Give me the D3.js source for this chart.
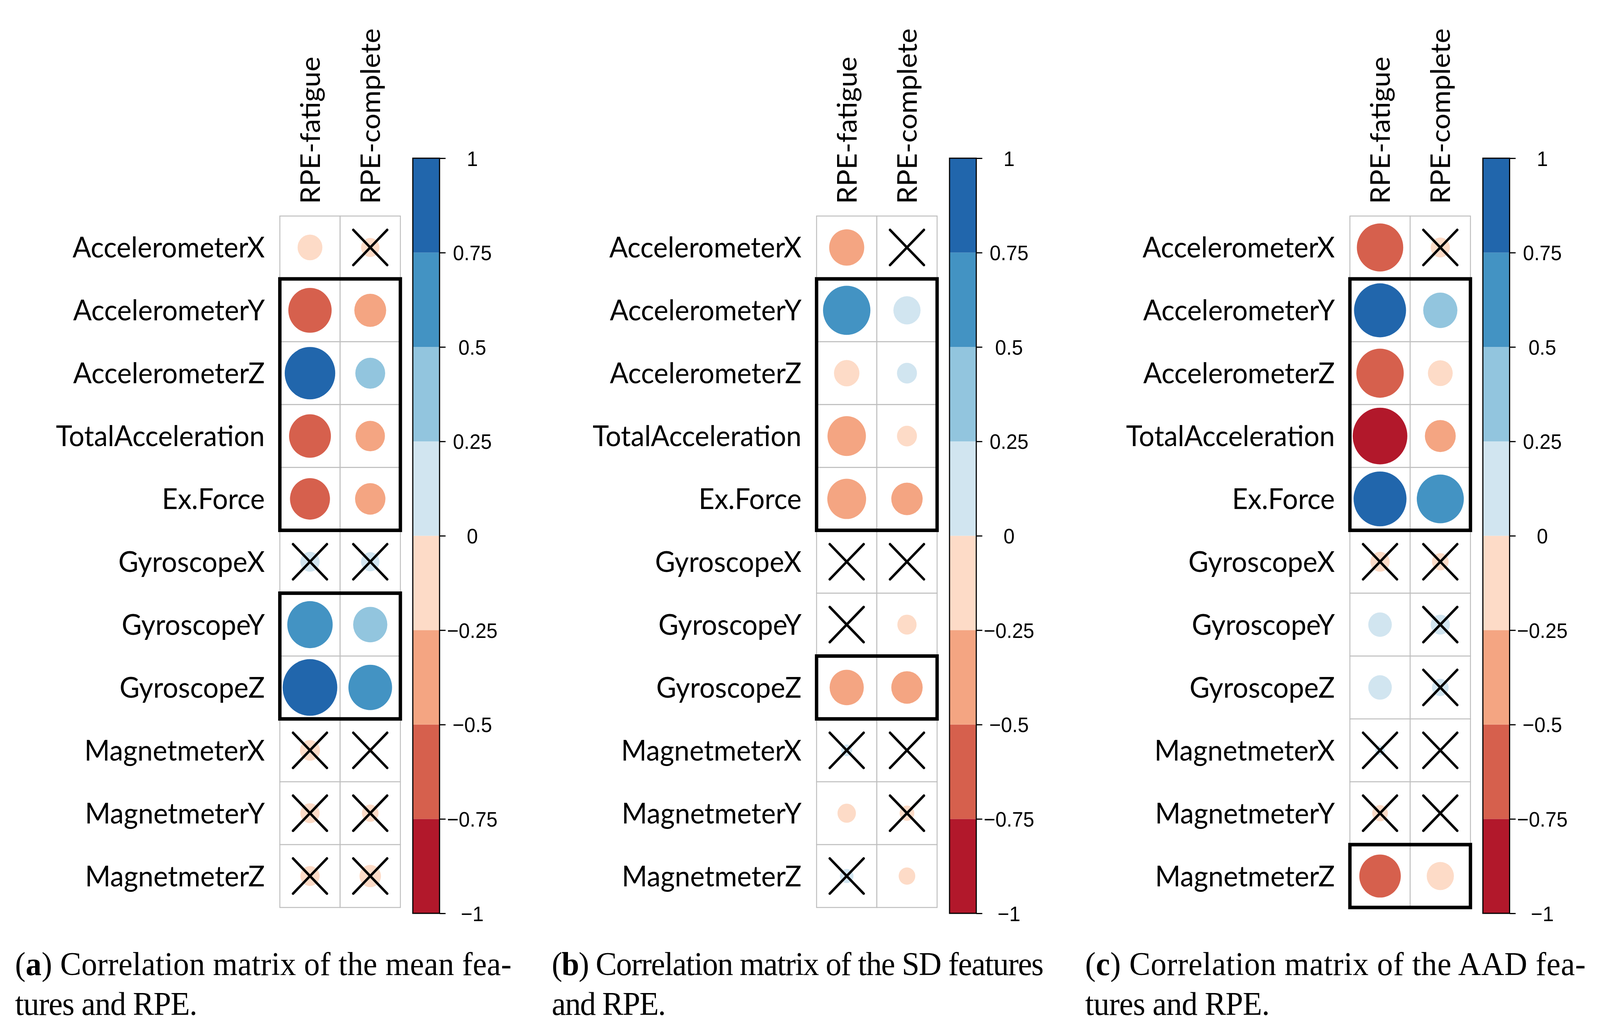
<!DOCTYPE html>
<html>
<head>
<meta charset="utf-8">
<script src="https://cdn.jsdelivr.net/npm/d3@7"></script>
<style>
  html, body { margin: 0; padding: 0; background: #fff; overflow: hidden; }
  #chart, svg { display: block; width: 100vw; height: 100vh; }
</style>
</head>
<body>
<div id="chart"></div>
<script>
// Features (rows) and RPE targets (columns)
const rowNames = ["AccelerometerX", "AccelerometerY", "AccelerometerZ", "TotalAcceleration", "Ex.Force",
  "GyroscopeX", "GyroscopeY", "GyroscopeZ", "MagnetmeterX", "MagnetmeterY", "MagnetmeterZ"];
const colNames = ["RPE-fatigue", "RPE-complete"];

// (a) mean features
const meanFatigue  = [-0.20, -0.61, 0.83, -0.57, -0.52, 0.12, 0.67, 0.97, -0.13, -0.12, -0.12];
const meanComplete = [-0.11, -0.33, 0.29, -0.28, -0.30, 0.11, 0.38, 0.62, -0.01, -0.09, -0.15];
const meanCrossFatigue  = [0, 0, 0, 0, 0, 1, 0, 0, 1, 1, 1];
const meanCrossComplete = [1, 0, 0, 0, 0, 1, 0, 0, 1, 1, 1];
const meanBoxes = [[1, 4], [6, 7]];

// (b) SD features
const sdFatigue  = [-0.40, 0.73, -0.21, -0.48, -0.49, 0.00, 0.00, -0.38, 0.04, -0.11, 0.06];
const sdComplete = [0.00, 0.24, 0.13, -0.13, -0.32, 0.00, -0.12, -0.32, 0.00, -0.07, -0.09];
const sdCrossFatigue  = [0, 0, 0, 0, 0, 1, 1, 0, 1, 0, 1];
const sdCrossComplete = [1, 0, 0, 0, 0, 1, 0, 0, 1, 1, 0];
const sdBoxes = [[1, 4], [7, 7]];

// (c) AAD features
const aadFatigue  = [-0.70, 0.88, -0.73, -0.97, 0.91, -0.12, 0.18, 0.18, 0.03, -0.08, -0.56];
const aadComplete = [-0.12, 0.38, -0.20, -0.31, 0.72, -0.09, 0.12, 0.09, 0.00, 0.00, -0.24];
const aadCrossFatigue  = [0, 0, 0, 0, 0, 1, 0, 0, 1, 1, 0];
const aadCrossComplete = [1, 0, 0, 0, 0, 1, 1, 1, 1, 1, 0];
const aadBoxes = [[1, 4], [10, 10]];

// colour bar
const barTicks = [-1, -0.75, -0.5, -0.25, 0, 0.25, 0.5, 0.75, 1];
const barColors = ["#B2182B", "#D6604D", "#F4A582", "#FDDBC7", "#D1E5F0", "#92C5DE", "#4393C3", "#2166AC"];

// captions
const captionA = ["(", "a", ") Correlation matrix of the mean fea-", "tures and RPE."];
const captionB = ["(", "b", ") Correlation matrix of the SD features", "and RPE."];
const captionC = ["(", "c", ") Correlation matrix of the AAD fea-", "tures and RPE."];

const W = 4248, H = 2652;
const cell = 160;
const gridTop = 553, gridBottom = 2323;
const barTop = 405, barBottom = 2338;

// the drawing is laid out on a 4248 x 2652 canvas and scaled to the window
const svg = d3.select("#chart").append("svg")
  .attr("viewBox", [0, 0, W, H])
  .attr("preserveAspectRatio", "none");

svg.append("rect").attr("width", W).attr("height", H).attr("fill", "#fff");

const color = d3.scaleQuantize().domain([-1, 1]).range(barColors);
const radius = d3.scaleSqrt().domain([0, 1]).range([0, 0.46 * cell]);

const panels = [
  { left: 743,  fatigue: meanFatigue, complete: meanComplete, crossF: meanCrossFatigue, crossC: meanCrossComplete, boxes: meanBoxes, caption: captionA, widths: [1318, 484] },
  { left: 2168, fatigue: sdFatigue,   complete: sdComplete,   crossF: sdCrossFatigue,   crossC: sdCrossComplete,   boxes: sdBoxes,   caption: captionB, widths: [1306, 303] },
  { left: 3584, fatigue: aadFatigue,  complete: aadComplete,  crossF: aadCrossFatigue,  crossC: aadCrossComplete,  boxes: aadBoxes,  caption: captionC, widths: [1329, 490] }
];

const labelFont = "Lato, 'Open Sans', sans-serif";

panels.forEach(function (p) {
  const g = svg.append("g");

  const x = d3.scaleBand().domain(colNames).range([p.left, p.left + 2 * cell]);
  const y = d3.scaleBand().domain(rowNames).range([gridTop, gridBottom]);

  // flatten the cells
  const cells = [];
  rowNames.forEach(function (r, i) {
    cells.push({ row: r, col: colNames[0], v: p.fatigue[i], cross: p.crossF[i] });
    cells.push({ row: r, col: colNames[1], v: p.complete[i], cross: p.crossC[i] });
  });

  // grid
  g.selectAll("rect.cell")
    .data(cells)
    .enter()
    .append("rect")
    .attr("class", "cell")
    .attr("x", d => x(d.col))
    .attr("y", d => y(d.row))
    .attr("width", x.bandwidth())
    .attr("height", y.bandwidth())
    .attr("fill", "#fff")
    .attr("stroke", "#BEBEBE")
    .attr("stroke-width", 2.5);

  // circles
  g.selectAll("circle")
    .data(cells)
    .enter()
    .append("circle")
    .attr("cx", d => x(d.col) + x.bandwidth() / 2)
    .attr("cy", d => y(d.row) + y.bandwidth() / 2)
    .attr("r", d => radius(Math.abs(d.v)))
    .attr("fill", d => color(d.v));

  // crosses for non-significant correlations
  const xs = 45;
  const crosses = g.selectAll("g.cross")
    .data(cells.filter(d => d.cross))
    .enter()
    .append("g")
    .attr("class", "cross")
    .attr("transform", d => `translate(${x(d.col) + x.bandwidth() / 2},${y(d.row) + y.bandwidth() / 2})`)
    .attr("stroke", "#000")
    .attr("stroke-width", 6.5)
    .attr("stroke-linecap", "round");
  crosses.append("line").attr("x1", -xs).attr("y1", -xs).attr("x2", xs).attr("y2", xs);
  crosses.append("line").attr("x1", -xs).attr("y1", xs).attr("x2", xs).attr("y2", -xs);

  // cluster boxes
  g.selectAll("rect.box")
    .data(p.boxes)
    .enter()
    .append("rect")
    .attr("class", "box")
    .attr("x", p.left)
    .attr("y", d => y(rowNames[d[0]]))
    .attr("width", 2 * cell)
    .attr("height", d => y(rowNames[d[1]]) + y.bandwidth() - y(rowNames[d[0]]))
    .attr("fill", "none")
    .attr("stroke", "#000")
    .attr("stroke-width", 9);

  // row labels
  g.selectAll("text.row")
    .data(rowNames)
    .enter()
    .append("text")
    .attr("class", "row")
    .attr("x", p.left - 40)
    .attr("y", d => y(d) + y.bandwidth() / 2 + 26)
    .attr("text-anchor", "end")
    .attr("font-family", labelFont)
    .attr("font-size", 73)
    .attr("fill", "#000")
    .text(d => d);

  // column labels (vertical)
  g.selectAll("text.col")
    .data(colNames)
    .enter()
    .append("text")
    .attr("class", "col")
    .attr("transform", d => `translate(${x(d) + x.bandwidth() / 2 + 26},${gridTop - 31}) rotate(-90)`)
    .attr("font-family", labelFont)
    .attr("font-size", 72)
    .attr("fill", "#000")
    .text(d => d);

  // colour bar
  const barLeft = p.left + 353, barW = 71;
  const yBar = d3.scaleLinear().domain([-1, 1]).range([barBottom, barTop]);
  const bins = d3.range(barColors.length).map(i => [barTicks[i], barTicks[i + 1], barColors[i]]);

  g.selectAll("rect.bin")
    .data(bins)
    .enter()
    .append("rect")
    .attr("class", "bin")
    .attr("x", barLeft)
    .attr("y", d => yBar(d[1]))
    .attr("width", barW)
    .attr("height", d => yBar(d[0]) - yBar(d[1]))
    .attr("fill", d => d[2]);

  g.append("rect")
    .attr("x", barLeft)
    .attr("y", barTop)
    .attr("width", barW)
    .attr("height", barBottom - barTop)
    .attr("fill", "none")
    .attr("stroke", "#000")
    .attr("stroke-width", 3);

  const axis = g.append("g")
    .attr("transform", `translate(${barLeft + barW},0)`)
    .call(d3.axisRight(yBar).tickValues(barTicks).tickSize(16).tickFormat(d3.format("~g")));
  axis.select(".domain").remove();
  axis.selectAll(".tick line").attr("stroke", "#000").attr("stroke-width", 3);
  axis.selectAll(".tick text")
    .attr("x", 87)
    .attr("dy", null)
    .attr("y", 19)
    .attr("text-anchor", "middle")
    .attr("font-family", "'Liberation Sans', Arial, sans-serif")
    .attr("font-size", 53)
    .attr("fill", "#000");

  // caption (justified first line)
  const capX = p.left - 703;
  const line1 = g.append("text")
    .attr("x", capX)
    .attr("y", 2496)
    .attr("font-family", "'Liberation Serif', 'DejaVu Serif', serif")
    .attr("font-size", 84)
    .attr("fill", "#000")
    .attr("textLength", p.widths[0])
    .attr("lengthAdjust", "spacing");
  line1.append("tspan").text(p.caption[0]);
  line1.append("tspan").attr("font-weight", "bold").text(p.caption[1]);
  line1.append("tspan").text(p.caption[2]);

  g.append("text")
    .attr("x", capX)
    .attr("y", 2598)
    .attr("font-family", "'Liberation Serif', 'DejaVu Serif', serif")
    .attr("font-size", 84)
    .attr("fill", "#000")
    .attr("textLength", p.widths[1])
    .attr("lengthAdjust", "spacing")
    .text(p.caption[3]);
});
</script>
</body>
</html>
